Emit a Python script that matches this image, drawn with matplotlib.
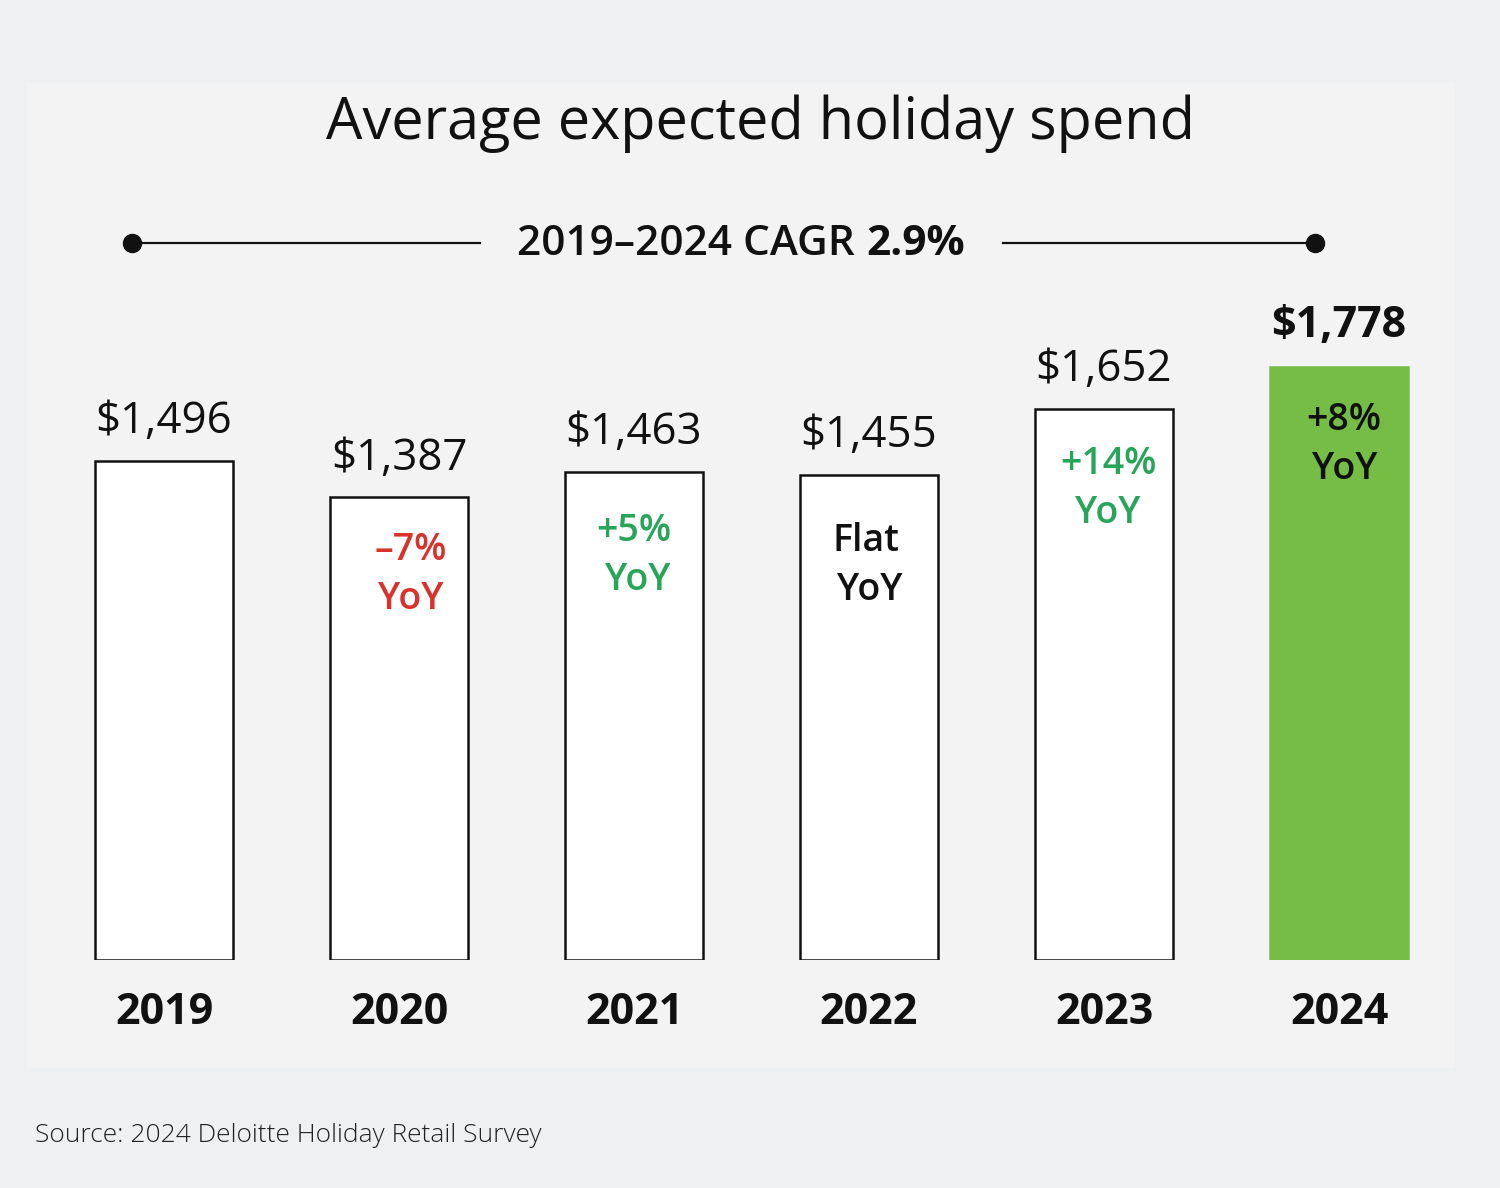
import matplotlib
matplotlib.use("Agg")
import matplotlib.pyplot as plt
from matplotlib.patches import Rectangle
from matplotlib.lines import Line2D

plt.rcParams['font.family'] = ['Open Sans', 'DejaVu Sans']

years = ["2019", "2020", "2021", "2022", "2023", "2024"]
values = [1496, 1387, 1463, 1455, 1652, 1778]
value_labels = ["$1,496", "$1,387", "$1,463", "$1,455", "$1,652", "$1,778"]
yoy_top = [None, "\u20137%", "+5%", "Flat", "+14%", "+8%"]
yoy_bottom = [None, "YoY", "YoY", "YoY", "YoY", "YoY"]
yoy_colors = [None, "#d9312b", "#27a558", "#111111", "#27a558", "#111111"]
title = "Average expected holiday spend"
cagr_label = "2019\u20132024 CAGR "
cagr_value = "2.9%"
source = "Source: 2024 Deloitte Holiday Retail Survey"

W, H = 1500, 1188
fig = plt.figure(figsize=(15, 11.88), dpi=100)
fig.patch.set_facecolor("#eff0f2")

# inner panel
fig.patches.append(Rectangle((27 / W, 1 - 1068 / H), (1455 - 27) / W, (1068 - 83) / H,
                             transform=fig.transFigure, facecolor="#f3f3f3",
                             edgecolor="none", zorder=-5))

# axes: x categories -0.5..5.5 over px 46.5..1456.5, y 0..2000 from px 960 up
ax = fig.add_axes([46.5 / W, 228 / H, 1410 / W, 2000 * 0.3336 / H])
ax.set_zorder(2)
ax.set_xlim(-0.5, 5.5)
ax.set_ylim(0, 2000)
ax.axis("off")
ax.patch.set_alpha(0)

faces = ["white"] * 5 + ["#76bd45"]
edges = ["#111111"] * 5 + ["#76bd45"]
x = list(range(len(years)))
ax.bar(x, values, width=138 / 235, color=faces, edgecolor=edges, linewidth=1.8, zorder=2)

yoy_dx = [0, 12, 0, -3, 4, 5]
yoy_dy = [0, -53, -59, -66, -55, -53]
line2_dx = [0, 0, 4, 4, 0, 1]

for i, (v, lab) in enumerate(zip(values, value_labels)):
    bold = i == len(values) - 1
    ax.annotate(lab, xy=(i, v), xytext=(0, 39 if not bold else 41), textcoords="offset pixels",
                ha="center", va="center", fontsize=31 if bold else 31.5, color="#111111",
                fontweight="bold" if bold else "normal", annotation_clip=False)
    ax.annotate(years[i], xy=(i, 0), xytext=(0, -52), textcoords="offset pixels",
                ha="center", va="center", fontsize=31, color="#111111", fontweight="bold",
                annotation_clip=False)
    if yoy_top[i]:
        ax.annotate(yoy_top[i], xy=(i, v), xytext=(yoy_dx[i], yoy_dy[i]),
                    textcoords="offset pixels", ha="center", va="center",
                    fontsize=27, color=yoy_colors[i], fontweight="semibold")
        ax.annotate(yoy_bottom[i], xy=(i, v),
                    xytext=(yoy_dx[i] + line2_dx[i], yoy_dy[i] - 49),
                    textcoords="offset pixels", ha="center", va="center",
                    fontsize=27, color=yoy_colors[i], fontweight="semibold")

# title
fig.text(760 / W, 1 - 124 / H, title, ha="center", va="center", fontsize=41.5, color="#111111")

# CAGR line with dots
yl = 1 - 243 / H
fig.add_artist(Line2D([132 / W, 480 / W], [yl, yl], color="#111111", lw=1.6,
                      transform=fig.transFigure))
fig.add_artist(Line2D([1003 / W, 1315 / W], [yl, yl], color="#111111", lw=1.6,
                      transform=fig.transFigure))
fig.add_artist(Line2D([132 / W, 1315 / W], [yl, yl], color="#111111", lw=0, marker="o",
                      markersize=13, transform=fig.transFigure))
t1 = fig.text(517 / W, 1 - 244 / H, cagr_label, ha="left", va="center", fontsize=30.5,
              color="#111111", fontweight="semibold")
fig.canvas.draw()
bb = t1.get_window_extent()
fig.text(bb.x1 / W, 1 - 244 / H, cagr_value, ha="left", va="center", fontsize=30.5,
         color="#111111", fontweight="bold")

fig.text(35 / W, 1 - 1136 / H, source, ha="left", va="center", fontsize=19,
         color="#222222", fontweight="light")

fig.savefig("out.png", dpi=100, facecolor=fig.get_facecolor())
